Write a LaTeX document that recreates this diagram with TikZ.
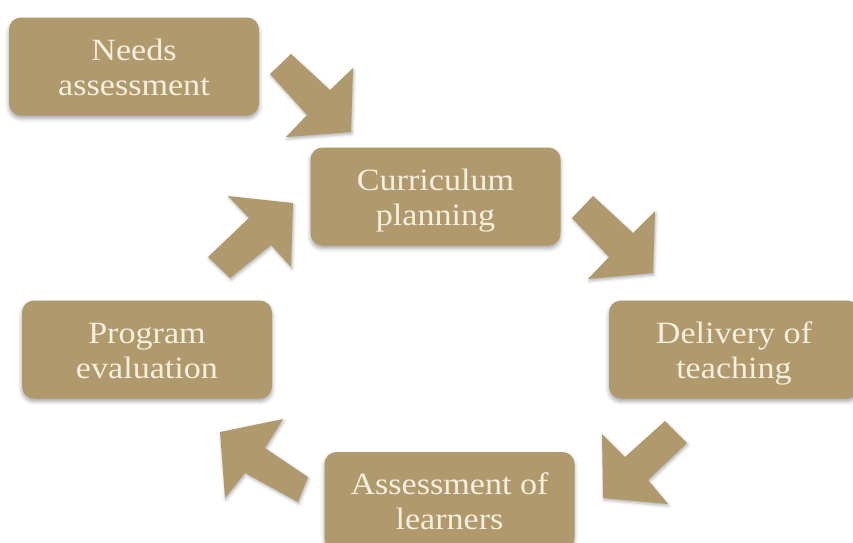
\documentclass[tikz,border=0pt]{standalone}
\usepackage{fontspec}
\setmainfont{Liberation Serif}[FakeStretch=1.1]
\usetikzlibrary{shadows.blur}

\definecolor{kraft}{RGB}{176,153,109}
\definecolor{cream}{RGB}{246,239,222}

% two centred lines, set a little lower than the box centre
\newcommand\stagetext[1]{\raisebox{-4pt}[\height][\depth]{\begin{tabular}{@{}c@{}}#1\end{tabular}}}

\begin{document}
\begin{tikzpicture}[x=1pt,y=-1pt,
  stage/.style={fill=kraft, rounded corners=12pt, minimum width=250pt,
    minimum height=98pt, inner sep=0pt, text=cream,
    font=\fontsize{31}{35}\selectfont,
    blur shadow={shadow xshift=0pt, shadow yshift=-3pt,
      shadow blur radius=4pt, shadow opacity=35}},
  cyclearrow/.style={fill=kraft,
    blur shadow={shadow xshift=1pt, shadow yshift=-2pt,
      shadow blur radius=3pt, shadow opacity=30}}]
\useasboundingbox (0,0) rectangle (853,542);
\clip (0,0) rectangle (853,542);

% stages of the cycle
\node[stage] (needs)    at (134,66.5)    {\stagetext{Needs\\assessment}};
\node[stage] (plan)     at (435.5,196.5) {\stagetext{Curriculum\\planning}};
\node[stage] (delivery) at (734,349.5)   {\stagetext{Delivery of\\teaching}};
\node[stage] (assess)   at (449.5,501)   {\stagetext{Assessment of\\learners}};
\node[stage] (eval)     at (147,349.5)   {\stagetext{Program\\evaluation}};

% block arrows between the stages
\fill[cyclearrow] (270,74) -- (291,54) -- (330,90) -- (353,68) -- (351,132)
  -- (286,137) -- (307,115) -- cycle;
\fill[cyclearrow] (572,218) -- (593,196) -- (633,233) -- (655,211) -- (653,273)
  -- (588,279) -- (609,257) -- cycle;
\fill[cyclearrow] (665,421) -- (687,443) -- (648,480) -- (668,504) -- (603,498)
  -- (602,434) -- (625,457) -- cycle;
\fill[cyclearrow] (308,477) -- (298,502) -- (245,473) -- (225,498) -- (220,432)
  -- (283,419) -- (265,448) -- cycle;
\fill[cyclearrow] (208,257) -- (230,278) -- (271,245) -- (291,267) -- (293,203)
  -- (228,196) -- (249,218) -- cycle;
\end{tikzpicture}
\end{document}
